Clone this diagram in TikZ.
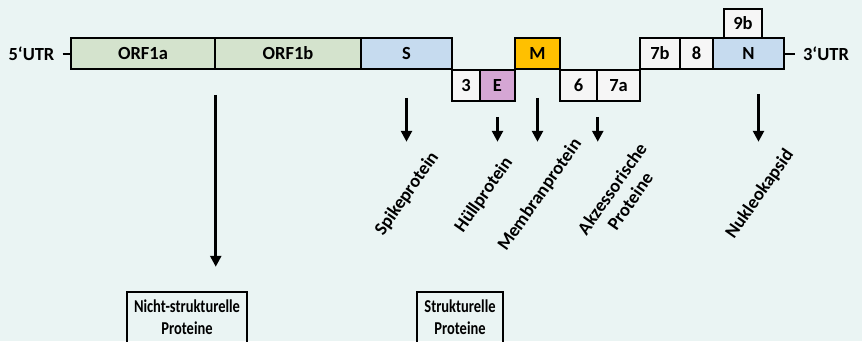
\documentclass[tikz,border=0pt]{standalone}
\usepackage{fontspec}
\usepackage{graphicx}
\setmainfont{Carlito}
\usetikzlibrary{arrows.meta}

\definecolor{bgmint}{HTML}{EAF4F3}
\definecolor{orfgreen}{HTML}{D4E3CD}
\definecolor{protblue}{HTML}{C6DBEF}
\definecolor{memgold}{HTML}{FFC000}
\definecolor{envpink}{HTML}{D5A6D4}
\definecolor{accwhite}{HTML}{F6F6F6}

\newcommand{\tallline}[1]{\scalebox{1}[1.25]{#1}}

\tikzset{
  gene/.style={draw, line width=1.5pt, minimum height=31pt, inner sep=0pt,
    font=\fontsize{18.5}{22}\selectfont\bfseries},
  utr/.style={inner xsep=8pt, inner ysep=0pt, font=\fontsize{18.5}{22}\selectfont\bfseries},
  down/.style={line width=2.6pt, -{Triangle[length=11pt,width=11pt]}},
  product/.style={rotate=55, align=center, font=\fontsize{18.5}{22}\selectfont\bfseries},
  group/.style={draw, line width=1.5pt, anchor=north, align=center, inner ysep=8pt,
    font=\fontsize{14.5}{22}\selectfont\bfseries}
}

\begin{document}
\begin{tikzpicture}[x=1pt,y=-1pt]
      \useasboundingbox (0,0) rectangle (862,341);
      \fill[bgmint] (0,0) rectangle (862,341);
      \clip (0,0) rectangle (862,341);

      \node[gene, fill=orfgreen, minimum width=144pt] (orfa) at (143,53.5) {ORF1a};
      \node[gene, fill=orfgreen, minimum width=146pt] (orfb) at (288,53.5) {ORF1b};
      \node[gene, fill=protblue, minimum width=91pt] (spike) at (406.5,53.5) {S};
      \node[gene, fill=accwhite, minimum width=28pt] (orf3) at (466,85.5) {3};
      \node[gene, fill=envpink, minimum width=35pt] (env) at (497.5,85.5) {E};
      \node[gene, fill=memgold, minimum width=45pt] (mem) at (537.5,53.5) {M};
      \node[gene, fill=accwhite, minimum width=37pt] (orf6) at (578.5,85.5) {6};
      \node[gene, fill=accwhite, minimum width=43pt] (orf7a) at (618.5,85.5) {7a};
      \node[gene, fill=accwhite, minimum width=40pt] (orf7b) at (660,53.5) {7b};
      \node[gene, fill=accwhite, minimum width=33pt] (orf8) at (696.5,53.5) {8};
      \node[gene, fill=protblue, minimum width=71pt] (nuc) at (748.5,53.5) {N};
      \node[gene, fill=accwhite, minimum width=38pt, minimum height=29pt] (orf9b) at (743,23.5) {9b};

      \node[utr] (utr5) at (31.5,53.5) {5‘UTR};
      \node[utr] (utr3) at (826,53.5) {3‘UTR};
      \draw[line width=2pt] (utr5) -- (orfa);
      \draw[line width=2pt] (nuc) -- (utr3);

      \draw[down] (orfa.south east) ++(0,25) -- ++(0,172);
      \draw[down] (spike.south) ++(0,28) -- ++(0,44);
      \draw[down] (env.south) ++(0,15) -- ++(0,25);
      \draw[down] (mem.south) ++(0,28) -- ++(0,44);
      \draw[down] (orf6.south east) ++(0,15) -- ++(0,25);
      \draw[down] (nuc.south) ++(10,24) -- ++(0,48);

      \node[product] (spikelbl) at (407,194) {Spikeprotein};
      \node[product] (envlbl) at (484,195) {Hüllprotein};
      \node[product] (memlbl) at (540,195) {Membranprotein};
      \node[product] (acclbl) at (621,195) {Akzessorische\\Proteine};
      \node[product] (nuclbl) at (760,194) {Nukleokapsid};

      \node[group, minimum width=120pt] (nsp) at (187,291) {\tallline{Nicht-strukturelle}\\\tallline{Proteine}};
      \node[group, minimum width=86pt] (sp) at (460,291) {\tallline{Strukturelle}\\\tallline{Proteine}};
    \end{tikzpicture}
\end{document}
